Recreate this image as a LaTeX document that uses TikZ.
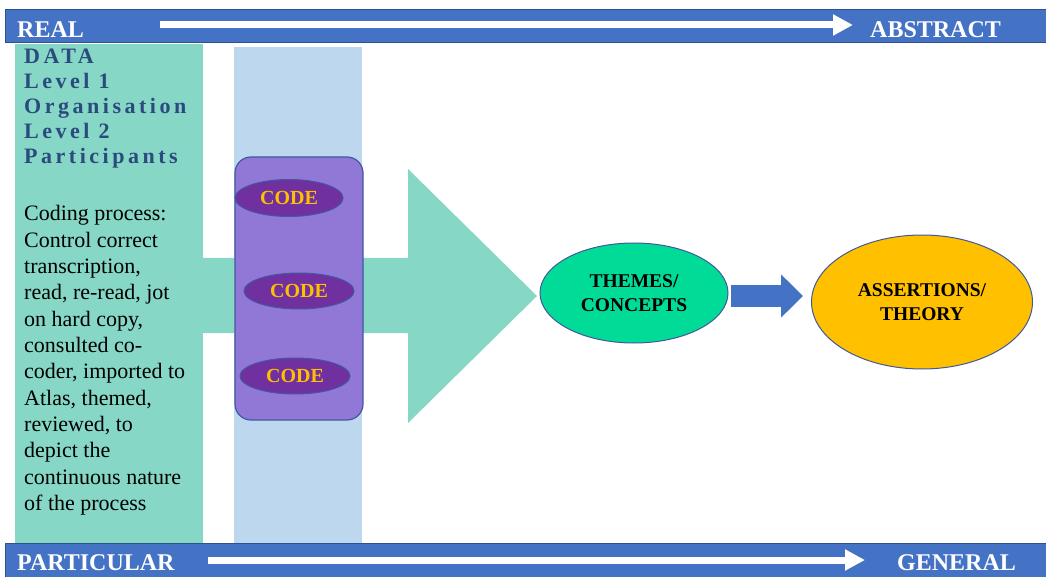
\documentclass[tikz,border=0pt]{standalone}
\usepackage{fontspec}
\setmainfont{Liberation Serif}
\newfontfamily\spacedserif[LetterSpace=16]{Liberation Serif}
\usetikzlibrary{shapes.geometric,arrows.meta}

\definecolor{barblue}{HTML}{4472C4}
\definecolor{barline}{HTML}{2F528F}
\definecolor{tealfill}{HTML}{86D7C6}
\definecolor{paleblue}{HTML}{BDD7EE}
\definecolor{midpurple}{HTML}{9278D6}
\definecolor{deeppurple}{HTML}{7030A0}
\definecolor{outlineblue}{HTML}{41589E}
\definecolor{codegold}{HTML}{FFC000}
\definecolor{themegreen}{HTML}{00DC98}
\definecolor{headblue}{HTML}{2B4A7E}

\begin{document}
\begin{tikzpicture}[x=1pt,y=-1pt,
  bar/.style={fill=barblue, draw=barline, line width=1pt},
  bartext/.style={text=white, font=\bfseries\fontsize{24}{28}\selectfont, inner sep=0pt, anchor=base west},
  bararrow/.style={draw=white, line width=7pt, -{Triangle[length=20pt,width=20pt]}},
  header/.style={text=headblue, font=\spacedserif\bfseries\fontsize{22}{25}\selectfont, inner sep=0pt, anchor=base west},
  bodyline/.style={font=\fontsize{22}{26}\selectfont, inner sep=0pt, anchor=base west},
  codebox/.style={ellipse, fill=deeppurple, draw=outlineblue, line width=1pt,
    minimum width=108pt, minimum height=37pt, inner sep=0pt,
    text=codegold, font=\bfseries\fontsize{20}{24}\selectfont},
  bigoval/.style={ellipse, draw=outlineblue, line width=1pt, inner sep=0pt, align=center,
    font=\bfseries\fontsize{19.5}{24}\selectfont},
  bluearrow/.style={draw=barblue, line width=22pt, -{Triangle[length=22pt,width=42pt]}}
]
\useasboundingbox (0,0) rectangle (1046,577);

% background columns
\fill[tealfill] (15,44) rectangle (203,543);
\fill[paleblue] (234,47) rectangle (362,543);

% broad arrow leading from the data column to the themes
\fill[tealfill] (203,258) -- (408,258) -- (408,169) -- (537,296) -- (408,423)
  -- (408,333) -- (203,333) -- cycle;

% coding panel
\filldraw[fill=midpurple, draw=outlineblue, line width=1.2pt, rounded corners=16pt]
  (235,157) rectangle (363,420);
\node[codebox] (code1) at (289,198) {CODE};
\node[codebox, minimum width=110pt, minimum height=36pt] (code2) at (299,291) {CODE};
\node[codebox, minimum width=110pt, minimum height=36pt] (code3) at (295,376) {CODE};

% data description
\foreach \t [count=\i from 0] in {DATA, Level 1, Organisation, Level 2, Participants}
  \node[header] (head\i) at (24, 64+25*\i) {\t};
\foreach \t [count=\i from 0] in {Coding process:, Control correct, {transcription,},
    {read, re-read, jot}, {on hard copy,}, consulted co-, {coder, imported to},
    {Atlas, themed,}, {reviewed, to}, depict the, continuous nature, of the process}
  \node[bodyline] (line\i) at (24, 221+26.3*\i) {\t};

% themes and theory
\node[bigoval, fill=themegreen, minimum width=188pt, minimum height=100pt] (themes)
  at (634,293) {THEMES/\\CONCEPTS};
\node[bigoval, fill=codegold, minimum width=221pt, minimum height=134pt] (assert)
  at (922,302) {ASSERTIONS/\\THEORY};
\coordinate (level) at (0,296);
\draw[bluearrow, shorten <=2pt, shorten >=8pt] (themes.east |- level) -- (assert.west |- level);

% top and bottom scales
\filldraw[bar] (5,10) rectangle (1046,43);
\filldraw[bar] (5,543) rectangle (1046,577);
\node[bartext] (real) at (17,38) {REAL};
\node[bartext] (abstract) at (870,38) {ABSTRACT};
\node[bartext] (particular) at (17,570) {PARTICULAR};
\node[bartext] (general) at (897,570) {GENERAL};
\coordinate (topstart) at (160,25);
\coordinate (topend) at (853,25);
\coordinate (botstart) at (208,560);
\coordinate (botend) at (865,560);
\draw[bararrow] (topstart) -- (topend);
\draw[bararrow] (botstart) -- (botend);
\end{tikzpicture}
\end{document}
